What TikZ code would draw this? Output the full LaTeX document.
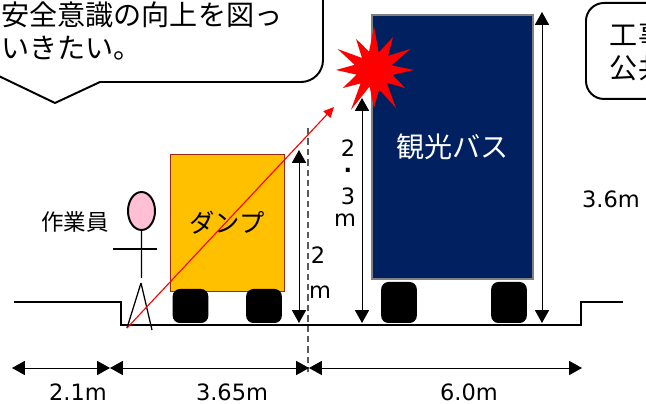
\documentclass[tikz,border=0pt]{standalone}
\usepackage{fontspec}
\setmainfont{Noto Sans CJK JP}
\newfontfamily\numfont{DejaVu Sans}
\usetikzlibrary{arrows.meta,shapes.geometric}

\definecolor{dumpyellow}{RGB}{255,192,0}
\definecolor{dumpedge}{RGB}{150,40,20}
\definecolor{busnavy}{RGB}{0,32,96}
\definecolor{headpink}{RGB}{255,192,214}
\definecolor{cutgray}{RGB}{90,90,90}

\begin{document}
\begin{tikzpicture}[x=0.25mm,y=-0.25mm,
	>={Triangle[length=3.2mm,width=3.5mm]},
	wheel/.style={fill=black,rounded corners=1.8mm,inner sep=0pt,minimum width=8.9mm,minimum height=#1},
	dim/.style={<->,line width=0.7pt},
	dimlabel/.style={inner sep=0pt,font=\numfont\fontsize{16}{16}\selectfont},
	talk/.style={draw,line width=1.4pt,fill=white},
	jp/.style={font=\fontsize{#1}{#1}\selectfont}]
	\useasboundingbox (0,0) rectangle (646,404);
	\clip (0,0) rectangle (646,404);

	\node[draw=dumpedge,fill=dumpyellow,line width=0.6pt,minimum width=28.5mm,minimum height=34.25mm,jp=18]	(dump)	at (227,222.5)	{ダンプ};
	\node[draw=gray,fill=busnavy,text=white,line width=1pt,minimum width=40.25mm,minimum height=66mm,jp=20]	(bus)	at (452.5,147)	{観光バス};
	\node[wheel=8.5mm]	(dumpW1)	at (190.5,306)	{};
	\node[wheel=8.5mm]	(dumpW2)	at (264,306)	{};
	\node[wheel=10.25mm]	(busW1)	at (399,302.5)	{};
	\node[wheel=10.25mm]	(busW2)	at (509,302.5)	{};

	\draw[line width=1.8pt] (14,302) -- (121,302) -- (121,325) -- (581,325) -- (581,302) -- (623,302);

	\node[draw,line width=1.4pt,fill=headpink,ellipse,minimum width=6.75mm,minimum height=9.5mm,inner sep=0pt]	(head)	at (141.5,211)	{};
	\coordinate (hip)	at (141.5,278);
	\coordinate (handL)	at (113,249);
	\coordinate (handR)	at (157,249);
	\coordinate (crotch)	at (141,283);
	\coordinate (footL)	at (127,328);
	\coordinate (footR)	at (152,330);
	\draw[line width=0.9pt] (head) -- (hip) (crotch) -- (footL) (crotch) -- (footR);
	\draw[line width=1.4pt] (handL) -- (handR);
	\node[jp=16]	(worker)	at (75,222)	{作業員};

	\coordinate (cutTop)	at (308,128);
	\coordinate (cutBot)	at (308,372);
	\draw[cutgray,line width=1pt,dash pattern=on 1.6mm off 1mm] (cutTop) -- (cutBot);

	\coordinate (dumpTop)	at (299,150);
	\coordinate (dumpBase)	at (299,323);
	\coordinate (busTop)	at (362,98);
	\coordinate (busBase)	at (362,323);
	\coordinate (roofTop)	at (542,12);
	\coordinate (roofBase)	at (542,323);
	\path[dim]
		(dumpTop)	edge	(dumpBase)
		(busTop)	edge	(busBase)
		(roofTop)	edge	(roofBase);

	\foreach \t/\px/\py [count=\i] in {2/318/255, m/320/292}
		\node[dimlabel]	(dumpH\i)	at (\px,\py)	{\t};
	\foreach \t/\px/\py [count=\i] in {2/348/148, {\bfseries.}/348/170, 3/348/196, m/345/220}
		\node[dimlabel]	(busH\i)	at (\px,\py)	{\t};
	\node[dimlabel]	(roofH)	at (611,199)	{3.6m};

	\coordinate (g0)	at (12,368);
	\coordinate (g1)	at (110,368);
	\coordinate (g2)	at (309,368);
	\coordinate (g3)	at (582,368);
	\path[dim]
		(g0)	edge	(g1)
		(g1)	edge	(g2)
		(g2)	edge	(g3);
	\node[dimlabel]	(w1)	at (78,392)	{2.1m};
	\node[dimlabel]	(w2)	at (232,392)	{3.65m};
	\node[dimlabel]	(w3)	at (469,392)	{6.0m};

	\coordinate (sightEnd)	at (334,107);
	\draw[->,red,line width=0.8pt,>={Triangle[length=2.6mm,width=2.4mm]}] (footL) -- (sightEnd);

	\fill[red,shift={(374,70)}] (0:40)
		\foreach \a/\r in {15/19,30/36,45/18,60/44,75/20,90/38,105/17,120/46,135/19,150/36,165/18,180/38,195/20,210/42,225/17,240/36,255/19,270/44,285/18,300/38,315/20,330/42,345/18}
		{-- (\a:\r)} -- cycle;

	\draw[talk] (-20,67) -- (55,103) -- (100,82) -- (200,82) [rounded corners=5.5mm] -- (323,82) -- (323,-30);
	\node[anchor=west,align=left,inner sep=0pt,font=\fontsize{20}{23}\selectfont]	(wish)	at (1,31)	{安全意識の向上を図っ\\いきたい。};

	\node[talk,rounded corners=4.5mm,anchor=north west,minimum height=24mm,text width=40mm,inner xsep=6mm,align=left,font=\fontsize{20}{23.5}\selectfont]	(notice)	at (585,2)	{工事\\公共};
\end{tikzpicture}
\end{document}
